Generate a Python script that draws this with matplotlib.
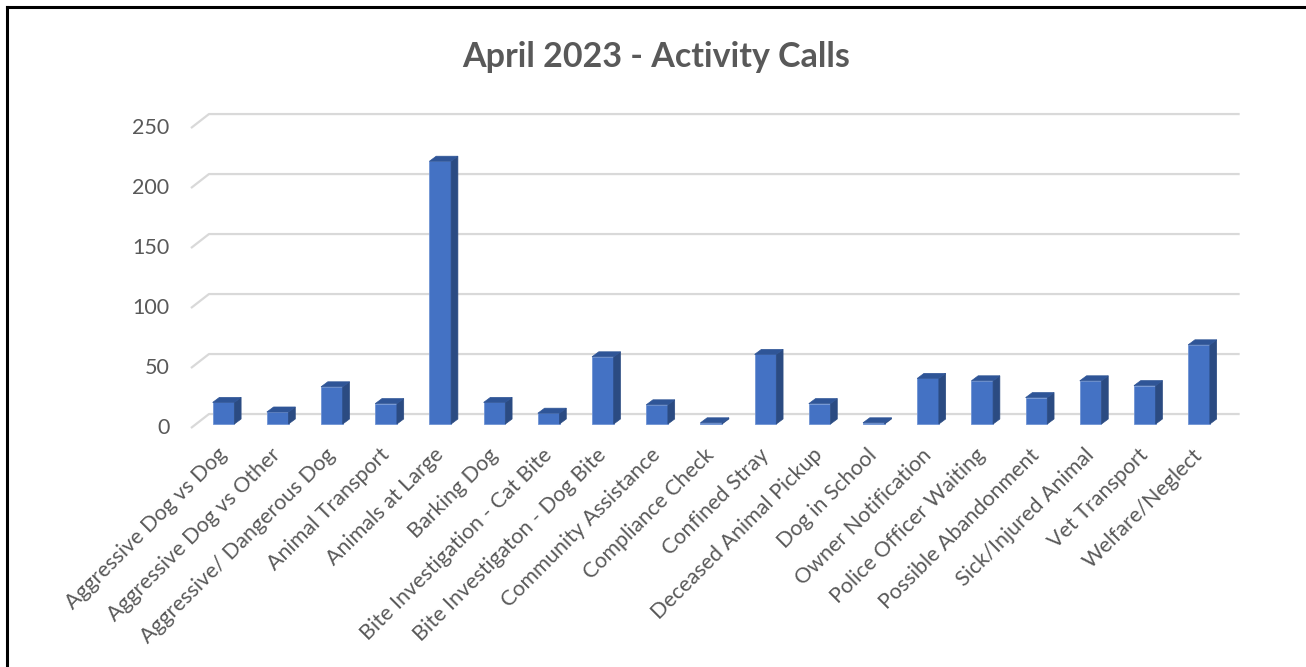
import matplotlib
matplotlib.use('Agg')
import matplotlib.pyplot as plt
from matplotlib.patches import Polygon
from matplotlib.lines import Line2D

plt.rcParams['font.family'] = ['Lato', 'DejaVu Sans']

# dados
categorias = ['Aggressive Dog vs Dog', 'Aggressive Dog vs Other', 'Aggressive/ Dangerous Dog',
              'Animal Transport', 'Animals at Large', 'Barking Dog',
              'Bite Investigation - Cat Bite', 'Bite Investigaton - Dog Bite',
              'Community Assistance', 'Compliance Check', 'Confined Stray',
              'Deceased Animal Pickup', 'Dog in School', 'Owner Notification',
              'Police Officer Waiting', 'Possible Abandonment', 'Sick/Injured Animal',
              'Vet Transport', 'Welfare/Neglect']
chamadas = [18, 10, 31, 17, 219, 18, 9, 56, 16, 1, 58, 17, 1, 38, 36, 22, 36, 32, 66]
yticks = [0, 50, 100, 150, 200, 250]
titulo = 'April 2023 - Activity Calls'

cinza = '#595959'
frente = '#4472C4'
lado = '#2B4B82'
topo = '#2F5597'

fig = plt.figure(figsize=(13.06, 6.67), dpi=100)
ax = fig.add_axes([0.1378, 0.3373, 0.8193, 0.5037])
ax.set_xlim(-0.803, 18.94)
ax.set_ylim(-15, 265)
for s in ax.spines.values():
    s.set_visible(False)
ax.set_yticks([])

# "profundidade" do efeito 3D
w = 0.40
dx = 0.125
dy = 4.2

# linhas de grade na parede do fundo
for v in yticks:
    ax.plot([-0.60, -0.268, 18.75], [v - 3.33, v + 8.33, v + 8.33],
            color='#D9D9D9', lw=1.6, zorder=1, solid_capstyle='butt')
    ax.text(-1.0, v - 3.33, str(v), ha='right', va='center',
            fontsize=15.5, color=cinza)

# barras 3D (frente + lateral + topo)
x = list(range(len(categorias)))
ax.bar(x, chamadas, width=w, color=frente, edgecolor='#6F93D3', linewidth=0.6, zorder=3)
for i, v in zip(x, chamadas):
    l, r = i - w / 2, i + w / 2
    ax.add_patch(Polygon([(r, 0), (r + dx, dy), (r + dx, v + dy), (r, v)],
                         closed=True, facecolor=lado, edgecolor=lado, lw=0.5, zorder=3))
    ax.add_patch(Polygon([(l, v), (l + dx, v + dy), (r + dx, v + dy), (r, v)],
                         closed=True, facecolor=topo, edgecolor=topo, lw=0.5, zorder=3))

ax.set_xticks(x)
ax.set_xticklabels(categorias, rotation=45, ha='right', va='center',
                   rotation_mode='anchor', fontsize=15.5, color=cinza)
ax.tick_params(axis='x', length=0, pad=7)

fig.text(0.5022, 0.915, titulo, ha='center', va='center', fontsize=24.5,
         fontweight='bold', color=cinza)

# moldura preta
fig.add_artist(Line2D([0.0053, 0.0053], [0, 0.9895], color='black', lw=2.2))
fig.add_artist(Line2D([0.0053, 1.0], [0.9895, 0.9895], color='black', lw=2.2))

fig.savefig('out.png', dpi=100)
